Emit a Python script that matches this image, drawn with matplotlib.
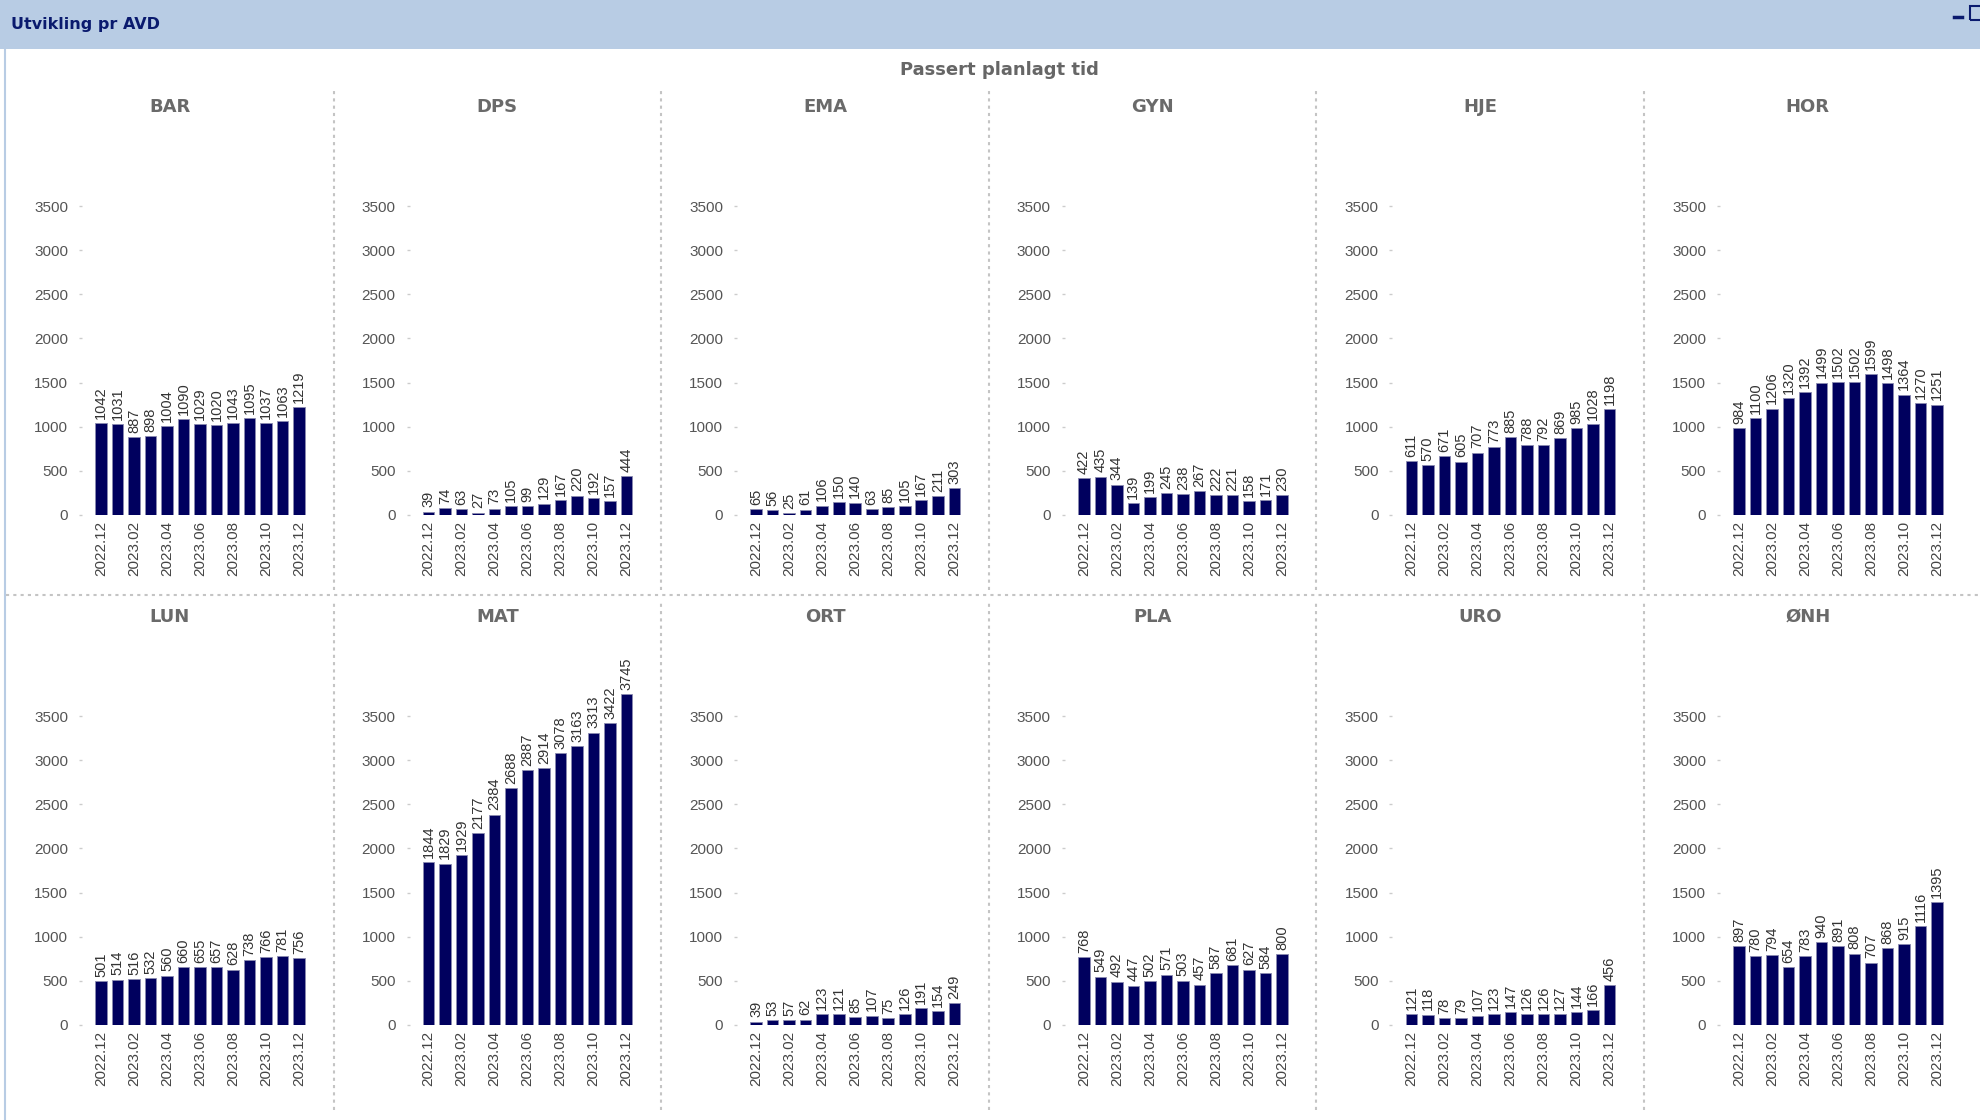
import matplotlib
matplotlib.use("Agg")
import matplotlib.pyplot as plt
from matplotlib.patches import Rectangle
from matplotlib.lines import Line2D

# months and departments
months = ["2022.12", "2023.01", "2023.02", "2023.03", "2023.04", "2023.05", "2023.06",
          "2023.07", "2023.08", "2023.09", "2023.10", "2023.11", "2023.12"]

bar_vals = [1042, 1031, 887, 898, 1004, 1090, 1029, 1020, 1043, 1095, 1037, 1063, 1219]
dps_vals = [39, 74, 63, 27, 73, 105, 99, 129, 167, 220, 192, 157, 444]
ema_vals = [65, 56, 25, 61, 106, 150, 140, 63, 85, 105, 167, 211, 303]
gyn_vals = [422, 435, 344, 139, 199, 245, 238, 267, 222, 221, 158, 171, 230]
hje_vals = [611, 570, 671, 605, 707, 773, 885, 788, 792, 869, 985, 1028, 1198]
hor_vals = [984, 1100, 1206, 1320, 1392, 1499, 1502, 1502, 1599, 1498, 1364, 1270, 1251]
lun_vals = [501, 514, 516, 532, 560, 660, 655, 657, 628, 738, 766, 781, 756]
mat_vals = [1844, 1829, 1929, 2177, 2384, 2688, 2887, 2914, 3078, 3163, 3313, 3422, 3745]
ort_vals = [39, 53, 57, 62, 123, 121, 85, 107, 75, 126, 191, 154, 249]
pla_vals = [768, 549, 492, 447, 502, 571, 503, 457, 587, 681, 627, 584, 800]
uro_vals = [121, 118, 78, 79, 107, 123, 147, 126, 126, 127, 144, 166, 456]
onh_vals = [897, 780, 794, 654, 783, 940, 891, 808, 707, 868, 915, 1116, 1395]

departments = ["BAR", "DPS", "EMA", "GYN", "HJE", "HOR",
               "LUN", "MAT", "ORT", "PLA", "URO", "ØNH"]
series = [bar_vals, dps_vals, ema_vals, gyn_vals, hje_vals, hor_vals,
          lun_vals, mat_vals, ort_vals, pla_vals, uro_vals, onh_vals]

yticks = [0, 500, 1000, 1500, 2000, 2500, 3000, 3500]

W, H = 1980, 1120
fig = plt.figure(figsize=(W / 100, H / 100), dpi=100)
fig.patch.set_facecolor("white")

navy = "#00005e"
grey_txt = "#555555"
title_font = ["DejaVu Sans"]
plt.rcParams["font.family"] = ["Liberation Sans", "DejaVu Sans"]

# header strip
fig.patches.append(Rectangle((0, 1 - 49 / H), 1, 49 / H, transform=fig.transFigure,
                             facecolor="#b8cce4", edgecolor="none", zorder=0))
fig.lines.append(Line2D([5 / W, 5 / W], [0, 1 - 49 / H], transform=fig.transFigure,
                        color="#b8cce4", lw=1.5))
fig.text(11 / W, 1 - 25 / H, "Utvikling pr AVD", color="#0a1a6e", fontsize=11.5,
         fontweight="bold", family=title_font, va="center", ha="left")
fig.lines.append(Line2D([1954 / W, 1962 / W], [1 - 17 / H, 1 - 17 / H], transform=fig.transFigure,
                        color="#0a1a6e", lw=2.5))
fig.patches.append(Rectangle((1970 / W, 1 - 20 / H), 14 / W, 14 / H, transform=fig.transFigure,
                             facecolor="none", edgecolor="#0a1a6e", lw=1.5))

fig.text(999 / W, 1 - 70 / H, "Passert planlagt tid", color="#666666", fontsize=13,
         fontweight="bold", family=title_font, ha="center", va="center")

# dotted panel separators
sep_col = "#c4c4c4"
col_w = 327.6
for k in range(1, 6):
    x = (6 + k * col_w) / W
    fig.lines.append(Line2D([x, x], [1 - 590 / H, 1 - 88 / H], transform=fig.transFigure,
                            color=sep_col, lw=1.5, ls=(0, (1.5, 2))))
    fig.lines.append(Line2D([x, x], [1 - 1110 / H, 1 - 600 / H], transform=fig.transFigure,
                            color=sep_col, lw=1.5, ls=(0, (1.5, 2))))
fig.lines.append(Line2D([6 / W, 1], [1 - 595 / H, 1 - 595 / H], transform=fig.transFigure,
                        color=sep_col, lw=1.5, ls=(0, (1.5, 2))))

px_per_unit = 309 / 3500
ymax = 4000
x_idx = list(range(len(months)))

for i, (name, vals) in enumerate(zip(departments, series)):
    row, col = divmod(i, 6)
    zero_y = 515 if row == 0 else 1025
    left = 82 + col * col_w
    width = 227
    height = ymax * px_per_unit
    ax = fig.add_axes([left / W, 1 - zero_y / H, width / W, height / H])
    ax.bar(x_idx, vals, width=0.7, color=navy, edgecolor="#8a8ab0", linewidth=0.6)
    for xi, v in zip(x_idx, vals):
        ax.annotate(str(v), (xi, v), xytext=(0, 3), textcoords="offset points",
                    rotation=90, ha="center", va="bottom", fontsize=10.5, color="#333333")
    ax.set_xlim(-1.15, 12.6)
    ax.set_ylim(0, ymax)
    ax.set_yticks(yticks)
    ax.set_yticklabels([str(t) for t in yticks])
    ax.set_xticks(x_idx[::2])
    ax.set_xticklabels(months[::2], rotation=90)
    ax.tick_params(axis="y", length=2, width=1, color="#cccccc", labelsize=11,
                   labelcolor=grey_txt, pad=8)
    ax.tick_params(axis="x", length=0, labelsize=11, labelcolor="#444444", pad=4)
    for s in ax.spines.values():
        s.set_visible(False)
    ax.patch.set_alpha(0)

    title_y = 107 if row == 0 else 617
    fig.text((6 + col_w * (col + 0.5)) / W, 1 - title_y / H, name, color="#6a6a6a",
             fontsize=13, fontweight="bold", family=title_font, ha="center", va="center")

fig.savefig("out.png", dpi=100)
